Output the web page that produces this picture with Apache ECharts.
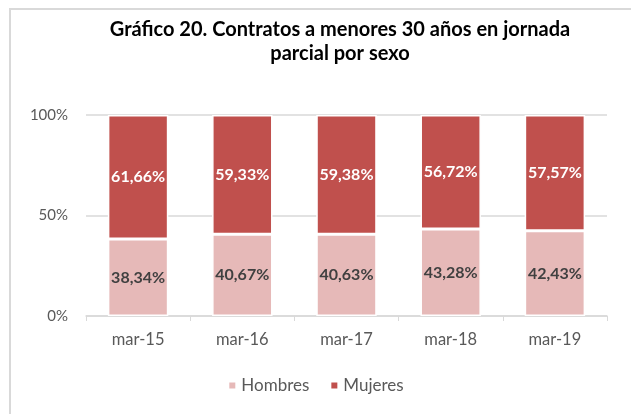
<!DOCTYPE html>
<html>
<head>
<meta charset="utf-8">
<script src="https://cdn.jsdelivr.net/npm/echarts@6/dist/echarts.min.js"></script>
<style>
  html, body { margin: 0; padding: 0; background: #fff; }
  #frame { position: absolute; left: 9px; top: 8px; right: 0; bottom: 0;
           border-left: 2px solid #d9d9d9; border-top: 2px solid #d9d9d9; }
  #chart { position: absolute; left: 0; top: 0; width: 631px; height: 414px; }
</style>
</head>
<body>
<div id="frame"></div>
<div id="chart"></div>
<script>
const categories = ['mar-15', 'mar-16', 'mar-17', 'mar-18', 'mar-19'];
const hombres = [38.34, 40.67, 40.63, 43.28, 42.43];
const mujeres = [61.66, 59.33, 59.38, 56.72, 57.57];
const yTicks = [0, 50, 100];

const fmt = (v) => v.toFixed(2).replace('.', ',') + '%';

const chart = echarts.init(document.getElementById('chart'));
chart.setOption({
    animation: false,
    title: {
        text: 'Gráfico 20. Contratos a menores 30 años en jornada\nparcial por sexo',
        left: 335,
        top: 13,
        textAlign: 'center',
        textStyle: { fontFamily: 'Lato', fontSize: 20, fontWeight: 'bold', color: '#000', lineHeight: 24 },
    },
    legend: {
        bottom: 15,
        left: 'center',
        itemWidth: 8,
        itemHeight: 8,
        itemGap: 20,
        icon: 'rect',
        textStyle: { fontFamily: 'Lato', fontSize: 17, color: '#595959' },
    },
    grid: { left: 86, right: 24, top: 115, bottom: 98 },
    xAxis: {
        type: 'category',
        data: categories,
        axisLine: { lineStyle: { color: '#d9d9d9', width: 1.5 } },
        axisTick: { show: true, length: 5, lineStyle: { color: '#d9d9d9' } },
        axisLabel: { fontFamily: 'Lato', fontSize: 16.5, color: '#595959', margin: 15 },
    },
    yAxis: {
        type: 'value',
        min: yTicks[0],
        max: yTicks[yTicks.length - 1],
        interval: yTicks[1] - yTicks[0],
        axisLine: { show: false },
        axisTick: { show: false },
        axisLabel: { fontFamily: 'Lato', fontSize: 15, color: '#595959', margin: 18, formatter: '{value}%' },
        splitLine: { lineStyle: { color: '#d9d9d9', width: 1.5 } },
    },
    series: [
        {
            name: 'Hombres',
            type: 'bar',
            stack: 'total',
            barWidth: '58%',
            data: hombres,
            itemStyle: { color: '#e6b9b8', borderColor: '#fff', borderWidth: 1.5 },
            label: {
                show: true,
                position: 'inside',
                formatter: (p) => fmt(p.value),
                fontFamily: 'Lato', fontSize: 16, fontWeight: 'bold', color: '#404040',
            },
        },
        {
            name: 'Mujeres',
            type: 'bar',
            stack: 'total',
            barWidth: '58%',
            data: mujeres,
            itemStyle: { color: '#c0504d', borderColor: '#fff', borderWidth: 1.5 },
            label: {
                show: true,
                position: 'inside',
                formatter: (p) => fmt(p.value),
                fontFamily: 'Lato', fontSize: 16, fontWeight: 'bold', color: '#fff',
            },
        },
    ],
});
</script>
</body>
</html>
